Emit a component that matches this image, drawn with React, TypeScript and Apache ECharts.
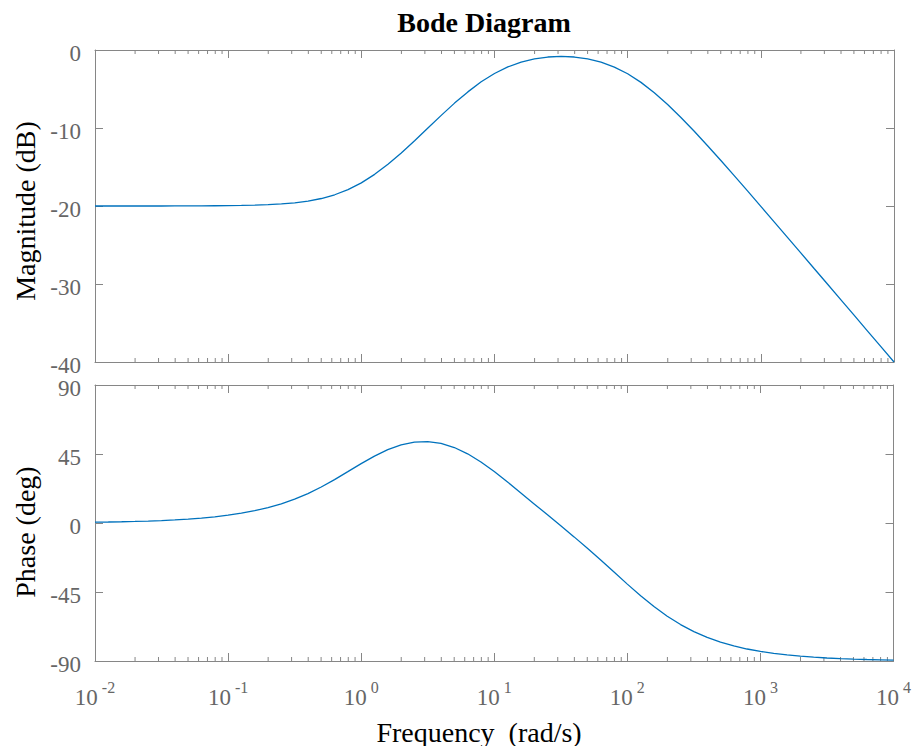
import React, { useEffect, useRef } from "react";
import * as echarts from "echarts";

// Frequency samples as log10(ω), ω in rad/s
const logFreq = [
  -2.0, -1.9, -1.8, -1.7, -1.6, -1.5, -1.4, -1.3, -1.2, -1.1,
  -1.0, -0.9, -0.8, -0.7, -0.6, -0.5, -0.4, -0.3, -0.2, -0.1,
  0.0, 0.1, 0.2, 0.3, 0.4, 0.5, 0.6, 0.7, 0.8, 0.9,
  1.0, 1.1, 1.2, 1.3, 1.4, 1.5, 1.6, 1.7, 1.8, 1.9,
  2.0, 2.1, 2.2, 2.3, 2.4, 2.5, 2.6, 2.7, 2.8, 2.9,
  3.0, 3.1, 3.2, 3.3, 3.4, 3.5, 3.6, 3.7, 3.8, 3.9,
  4.0,
];

// Magnitude response (dB)
const magnitudeDb = [
  -20.0, -20.0, -20.0, -20.0, -20.0, -20.0, -19.99, -19.99, -19.98, -19.97,
  -19.96, -19.93, -19.89, -19.83, -19.74, -19.59, -19.37, -19.04, -18.56, -17.9,
  -17.03, -15.94, -14.65, -13.2, -11.63, -10.0, -8.38, -6.81, -5.37, -4.08,
  -3.01, -2.17, -1.55, -1.13, -0.9, -0.82, -0.9, -1.14, -1.56, -2.19,
  -3.05, -4.15, -5.47, -6.98, -8.65, -10.42, -12.27, -14.17, -16.11, -18.07,
  -20.04, -22.03, -24.02, -26.01, -28.01, -30.0, -32.0, -34.0, -36.0, -38.0,
  -40.0,
];

// Phase response (deg)
const phaseDeg = [
  0.51, 0.64, 0.81, 1.02, 1.28, 1.61, 2.03, 2.55, 3.21, 4.04,
  5.08, 6.38, 8.01, 10.03, 12.52, 15.56, 19.2, 23.46, 28.28, 33.47,
  38.72, 43.64, 47.84, 50.95, 52.75, 53.09, 51.91, 49.23, 45.13, 39.82,
  33.58, 26.75, 19.63, 12.47, 5.33, -1.81, -9.05, -16.48, -24.15, -32.01,
  -39.86, -47.45, -54.5, -60.8, -66.24, -70.82, -74.61, -77.69, -80.18, -82.18,
  -83.77, -85.05, -86.06, -86.87, -87.52, -88.03, -88.43, -88.75, -89.01, -89.21,
  -89.38,
];

// Axis ranges
const freqDecades = [-2, -1, 0, 1, 2, 3, 4];
const magTicks = [-40, -30, -20, -10, 0];
const phaseTicks = [-90, -45, 0, 45, 90];

const LINE_COLOR = "#0072BD";
const AXIS_COLOR = "#868686";
const TICK_TEXT = "#666666";
const FONT = "Liberation Serif";

// Log-scale minor tick positions (2..9 × 10^n)
const minorTicks: number[] = [];
for (let d = freqDecades[0]; d < freqDecades[freqDecades.length - 1]; d++) {
  for (let k = 2; k <= 9; k++) minorTicks.push(d + Math.log10(k));
}

const GRID_LEFT = 95;
const GRID_WIDTH = 799;

function xAxisDef(gridIndex: number, position: "top" | "bottom", labels: boolean) {
  return {
    type: "value",
    gridIndex,
    position,
    min: freqDecades[0],
    max: freqDecades[freqDecades.length - 1],
    interval: 1,
    axisLine: { show: true, onZero: false, lineStyle: { color: AXIS_COLOR, width: 1 } },
    axisTick: { show: true, inside: true, length: 8, lineStyle: { color: AXIS_COLOR } },
    splitLine: { show: false },
    axisLabel: labels
      ? {
          show: true,
          margin: 18,
          formatter: (v: number) => `{b|10}{s|${Math.round(v)}}`,
          rich: {
            b: { fontSize: 23, fontFamily: FONT, color: TICK_TEXT, lineHeight: 30, verticalAlign: "bottom" },
            s: { fontSize: 16, fontFamily: FONT, color: TICK_TEXT, lineHeight: 18, verticalAlign: "top", padding: [0, 0, 0, 4] },
          },
        }
      : { show: false },
  };
}

function yAxisDef(gridIndex: number, position: "left" | "right", ticks: number[], labels: boolean) {
  return {
    type: "value",
    gridIndex,
    position,
    min: ticks[0],
    max: ticks[ticks.length - 1],
    interval: ticks[1] - ticks[0],
    axisLine: { show: true, onZero: false, lineStyle: { color: AXIS_COLOR, width: 1 } },
    axisTick: { show: true, inside: true, length: 8, lineStyle: { color: AXIS_COLOR } },
    splitLine: { show: false },
    axisLabel: labels
      ? {
          show: true,
          margin: 14,
          formatter: (v: number) => `{v|${v}}`,
          rich: {
            v: { fontSize: 23, fontFamily: FONT, color: TICK_TEXT, padding: [7, 0, 0, 0] },
          },
        }
      : { show: false },
  };
}

function minorTickSeries(axisIndex: number, yMin: number, yMax: number) {
  return {
    type: "custom",
    xAxisIndex: axisIndex,
    yAxisIndex: axisIndex,
    silent: true,
    clip: false,
    data: minorTicks.map((x) => [x, yMin]),
    renderItem: (_params: any, api: any) => {
      const x = api.value(0);
      const b = api.coord([x, yMin]);
      const t = api.coord([x, yMax]);
      const style = { stroke: AXIS_COLOR, lineWidth: 1 };
      return {
        type: "group",
        children: [
          { type: "line", shape: { x1: b[0], y1: b[1], x2: b[0], y2: b[1] - 4 }, style },
          { type: "line", shape: { x1: t[0], y1: t[1], x2: t[0], y2: t[1] + 4 }, style },
        ],
      };
    },
  };
}

export default function App() {
  const ref = useRef<HTMLDivElement>(null);

  useEffect(() => {
    if (!ref.current) return;
    const chart = echarts.init(ref.current, undefined, { renderer: "svg" });
    chart.setOption({
      animation: false,
      backgroundColor: "#ffffff",
      grid: [
        { left: GRID_LEFT, top: 50, width: GRID_WIDTH, height: 312 },
        { left: GRID_LEFT, top: 385, width: GRID_WIDTH, height: 276 },
      ],
      xAxis: [
        xAxisDef(0, "bottom", false),
        xAxisDef(0, "top", false),
        xAxisDef(1, "bottom", true),
        xAxisDef(1, "top", false),
      ],
      yAxis: [
        yAxisDef(0, "left", magTicks, true),
        yAxisDef(0, "right", magTicks, false),
        yAxisDef(1, "left", phaseTicks, true),
        yAxisDef(1, "right", phaseTicks, false),
      ],
      graphic: [
        {
          type: "text",
          x: 484, y: 22,
          style: {
            text: "Bode Diagram", fontSize: 28, fontWeight: "bold",
            fontFamily: FONT, fill: "#000", textAlign: "center", textVerticalAlign: "middle",
          },
        },
        {
          type: "text",
          x: 25, y: 211, rotation: Math.PI / 2,
          style: {
            text: "Magnitude (dB)", fontSize: 28, fontFamily: FONT, fill: "#000",
            textAlign: "center", textVerticalAlign: "middle",
          },
        },
        {
          type: "text",
          x: 25, y: 532, rotation: Math.PI / 2,
          style: {
            text: "Phase (deg)", fontSize: 28, fontFamily: FONT, fill: "#000",
            textAlign: "center", textVerticalAlign: "middle",
          },
        },
        {
          type: "text",
          x: 479, y: 732,
          style: {
            text: "Frequency  (rad/s)", fontSize: 28, fontFamily: FONT, fill: "#000",
            textAlign: "center", textVerticalAlign: "middle",
          },
        },
      ],
      series: [
        {
          type: "line",
          xAxisIndex: 0,
          yAxisIndex: 0,
          data: logFreq.map((x, i) => [x, magnitudeDb[i]]),
          showSymbol: false,
          lineStyle: { color: LINE_COLOR, width: 1.3 },
          silent: true,
        },
        {
          type: "line",
          xAxisIndex: 2,
          yAxisIndex: 2,
          data: logFreq.map((x, i) => [x, phaseDeg[i]]),
          showSymbol: false,
          lineStyle: { color: LINE_COLOR, width: 1.3 },
          silent: true,
        },
        minorTickSeries(0, magTicks[0], magTicks[magTicks.length - 1]),
        minorTickSeries(2, phaseTicks[0], phaseTicks[phaseTicks.length - 1]),
      ],
    });
    return () => chart.dispose();
  }, []);

  return (
    <div
      ref={ref}
      style={{ position: "fixed", left: 0, top: 0, width: 914, height: 746, background: "#fff" }}
    />
  );
}
